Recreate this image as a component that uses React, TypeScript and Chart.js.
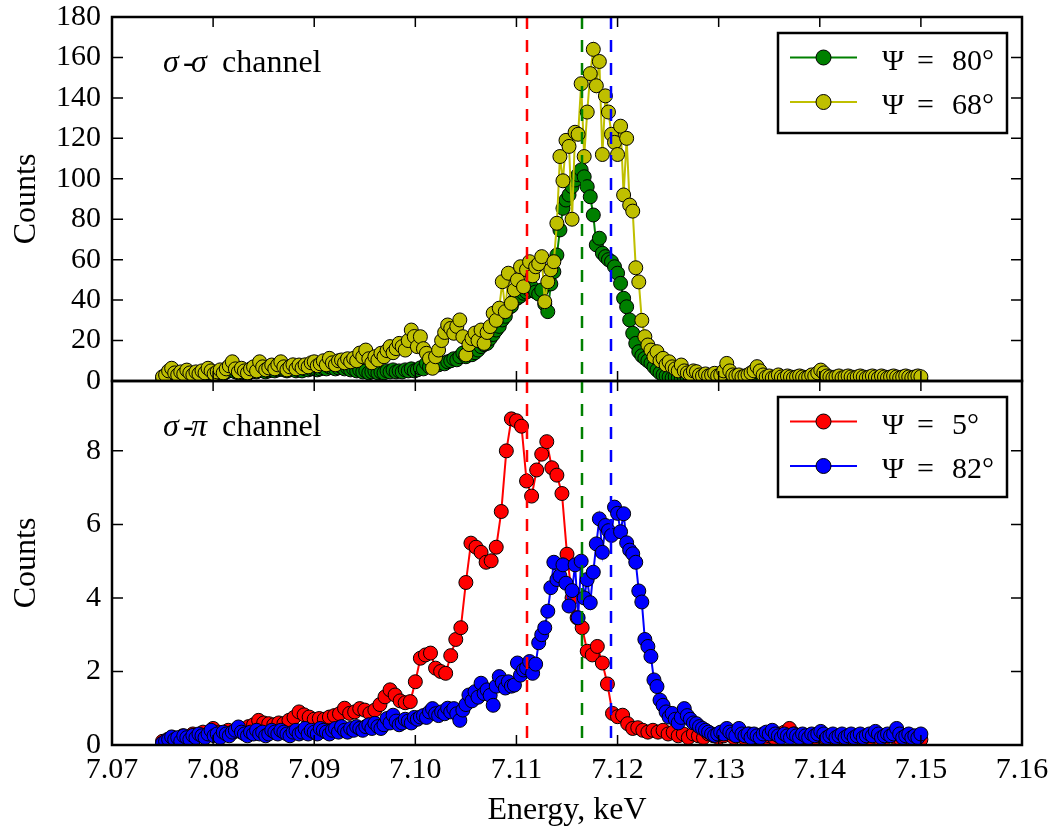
import React, { useEffect, useRef } from 'react';
import { Chart, registerables } from 'chart.js';

Chart.register(...registerables);

// Energy grid (keV) shared by the Ψ=80°, Ψ=68° and Ψ=82° scans
const fineEnergy = [
  7.0750, 7.0753, 7.0756, 7.0759, 7.0762, 7.0765, 7.0768, 7.0771, 7.0774, 7.0777,
  7.0780, 7.0783, 7.0786, 7.0789, 7.0792, 7.0795, 7.0798, 7.0801, 7.0804, 7.0807,
  7.0810, 7.0813, 7.0816, 7.0819, 7.0822, 7.0825, 7.0828, 7.0831, 7.0834, 7.0837,
  7.0840, 7.0843, 7.0846, 7.0849, 7.0852, 7.0855, 7.0858, 7.0861, 7.0864, 7.0867,
  7.0870, 7.0873, 7.0876, 7.0879, 7.0882, 7.0885, 7.0888, 7.0891, 7.0894, 7.0897,
  7.0900, 7.0903, 7.0906, 7.0909, 7.0912, 7.0915, 7.0918, 7.0921, 7.0924, 7.0927,
  7.0930, 7.0933, 7.0936, 7.0939, 7.0942, 7.0945, 7.0948, 7.0951, 7.0954, 7.0957,
  7.0960, 7.0963, 7.0966, 7.0969, 7.0972, 7.0975, 7.0978, 7.0981, 7.0984, 7.0987,
  7.0990, 7.0993, 7.0996, 7.0999, 7.1002, 7.1005, 7.1008, 7.1011, 7.1014, 7.1017,
  7.1020, 7.1023, 7.1026, 7.1029, 7.1032, 7.1035, 7.1038, 7.1041, 7.1044, 7.1047,
  7.1050, 7.1053, 7.1056, 7.1059, 7.1062, 7.1065, 7.1068, 7.1071, 7.1074, 7.1077,
  7.1080, 7.1083, 7.1086, 7.1089, 7.1092, 7.1095, 7.1098, 7.1101, 7.1104, 7.1107,
  7.1110, 7.1113, 7.1116, 7.1119, 7.1122, 7.1125, 7.1128, 7.1131, 7.1134, 7.1137,
  7.1140, 7.1143, 7.1146, 7.1149, 7.1152, 7.1155, 7.1158, 7.1161, 7.1164, 7.1167,
  7.1170, 7.1173, 7.1176, 7.1179, 7.1182, 7.1185, 7.1188, 7.1191, 7.1194, 7.1197,
  7.1200, 7.1203, 7.1206, 7.1209, 7.1212, 7.1215, 7.1218, 7.1221, 7.1224, 7.1227,
  7.1230, 7.1233, 7.1236, 7.1239, 7.1242, 7.1245, 7.1248, 7.1251, 7.1254, 7.1257,
  7.1260, 7.1263, 7.1266, 7.1269, 7.1272, 7.1275, 7.1278, 7.1281, 7.1284, 7.1287,
  7.1290, 7.1293, 7.1296, 7.1299, 7.1302, 7.1305, 7.1308, 7.1311, 7.1314, 7.1317,
  7.1320, 7.1323, 7.1326, 7.1329, 7.1332, 7.1335, 7.1338, 7.1341, 7.1344, 7.1347,
  7.1350, 7.1353, 7.1356, 7.1359, 7.1362, 7.1365, 7.1368, 7.1371, 7.1374, 7.1377,
  7.1380, 7.1383, 7.1386, 7.1389, 7.1392, 7.1395, 7.1398, 7.1401, 7.1404, 7.1407,
  7.1410, 7.1413, 7.1416, 7.1419, 7.1422, 7.1425, 7.1428, 7.1431, 7.1434, 7.1437,
  7.1440, 7.1443, 7.1446, 7.1449, 7.1452, 7.1455, 7.1458, 7.1461, 7.1464, 7.1467,
  7.1470, 7.1473, 7.1476, 7.1479, 7.1482, 7.1485, 7.1488, 7.1491, 7.1494, 7.1497,
  7.1500,
];

// Energy grid (keV) of the Ψ=5° scan
const coarseEnergy = [
  7.0750, 7.0755, 7.0760, 7.0765, 7.0770, 7.0775, 7.0780, 7.0785, 7.0790, 7.0795,
  7.0800, 7.0805, 7.0810, 7.0815, 7.0820, 7.0825, 7.0830, 7.0835, 7.0840, 7.0845,
  7.0850, 7.0855, 7.0860, 7.0865, 7.0870, 7.0875, 7.0880, 7.0885, 7.0890, 7.0895,
  7.0900, 7.0905, 7.0910, 7.0915, 7.0920, 7.0925, 7.0930, 7.0935, 7.0940, 7.0945,
  7.0950, 7.0955, 7.0960, 7.0965, 7.0970, 7.0975, 7.0980, 7.0985, 7.0990, 7.0995,
  7.1000, 7.1005, 7.1010, 7.1015, 7.1020, 7.1025, 7.1030, 7.1035, 7.1040, 7.1045,
  7.1050, 7.1055, 7.1060, 7.1065, 7.1070, 7.1075, 7.1080, 7.1085, 7.1090, 7.1095,
  7.1100, 7.1105, 7.1110, 7.1115, 7.1120, 7.1125, 7.1130, 7.1135, 7.1140, 7.1145,
  7.1150, 7.1155, 7.1160, 7.1165, 7.1170, 7.1175, 7.1180, 7.1185, 7.1190, 7.1195,
  7.1200, 7.1205, 7.1210, 7.1215, 7.1220, 7.1225, 7.1230, 7.1235, 7.1240, 7.1245,
  7.1250, 7.1255, 7.1260, 7.1265, 7.1270, 7.1275, 7.1280, 7.1285, 7.1290, 7.1295,
  7.1300, 7.1305, 7.1310, 7.1315, 7.1320, 7.1325, 7.1330, 7.1335, 7.1340, 7.1345,
  7.1350, 7.1355, 7.1360, 7.1365, 7.1370, 7.1375, 7.1380, 7.1385, 7.1390, 7.1395,
  7.1400, 7.1405, 7.1410, 7.1415, 7.1420, 7.1425, 7.1430, 7.1435, 7.1440, 7.1445,
  7.1450, 7.1455, 7.1460, 7.1465, 7.1470, 7.1475, 7.1480, 7.1485, 7.1490, 7.1495,
  7.1500,
];

// σ-σ channel, Ψ = 80°
const countsPsi80 = [
  1.5, 2.5, 3.5, 4, 3, 2.5, 3.5, 3, 4, 3,
  2.5, 3.5, 3, 4, 3.5, 4.5, 4, 3, 3.5, 4,
  3.5, 4.5, 5, 5.5, 4.5, 4, 4.5, 4, 3.5, 4.5,
  5, 4.5, 5.5, 5, 4.5, 5, 5.5, 5, 5.5, 6,
  5.5, 5, 5.5, 6, 5, 5.5, 5, 6, 5.5, 6,
  6, 5.5, 6, 6.5, 6, 7, 6.5, 6, 6.5, 7,
  6, 6.5, 5.5, 6, 5, 5.5, 4.5, 5, 4, 4.5,
  5, 4, 4.5, 4, 5, 4.5, 5.5, 4.5, 5, 4.5,
  5.5, 5, 6, 5, 5.5, 6.5, 6, 8.7, 7, 9,
  10.4, 8, 9, 8.5, 9.5, 10, 11, 10.5, 12, 13.8,
  12, 14.5, 13, 14, 15.3, 17, 18, 18.6, 21, 23,
  25.2, 27, 30.2, 32, 36, 37, 40, 41, 42, 43.4,
  44, 45, 46, 44, 43, 45, 38, 34.3, 48, 54,
  62.3, 74.7, 85.4, 89.5, 92, 96.1, 99.4, 102, 104.4, 101,
  96.1, 91.1, 82.1, 67.3, 70.6, 63.2, 61.5, 60, 59, 56.5,
  53.3, 48.3, 40.9, 36.7, 30.2, 23.6, 18.6, 14.5, 12.5, 11.2,
  10, 8.8, 7, 5.4, 4, 3, 2.5, 2, 1.5, 2,
  1.5, 1, 1.5, 1, 0.5, 1, 1.5, 1, 0.5, 1,
  0.5, 1, 1.5, 1, 0.5, 1, 1, 0.5, 1.5, 1,
  0.5, 1, 0.5, 1, 1.5, 1, 0.5, 1, 1, 0.5,
  1, 0.5, 1, 1.5, 0.5, 1, 0.5, 1, 0.5, 1,
  1.5, 0.5, 1, 0.5, 1, 0.5, 1, 1.5, 0.5, 1,
  0.5, 1, 0.5, 1, 0.5, 1.5, 1, 0.5, 1, 0.5,
  1, 0.5, 1, 0.5, 1, 0.5, 1, 0.5, 1.5, 1,
  0.5, 1, 0.5, 1, 0.5, 1, 0.5, 1, 0.5, 1,
  0.5,
];

// σ-σ channel, Ψ = 68°
const countsPsi68 = [
  2.1, 3, 5, 6.3, 4, 3, 4.5, 3.5, 5.4, 4,
  3, 4.5, 3.5, 5, 4, 6.3, 5, 3.5, 4.5, 5.5,
  4, 6, 7.5, 9.5, 6, 4.5, 6.3, 5, 4, 6,
  7, 5, 9.5, 7, 5.5, 6.5, 7.9, 6, 8, 9.5,
  7, 5.5, 7, 8, 6, 7.9, 6.5, 8, 7, 9,
  9.5, 7.5, 8.5, 10, 8, 11.2, 9, 8, 10, 10.4,
  9, 11, 9.5, 11.2, 10, 13.8, 12, 15.3, 11, 9,
  12, 10.4, 13.7, 12, 15, 17, 14, 16, 18.6, 17,
  15.3, 20, 25.2, 22, 17, 21.9, 16, 13.7, 11, 6.3,
  12, 15.3, 20, 24, 27.7, 26, 23.6, 27, 30.2, 21.9,
  12.9, 18, 21, 23.7, 20, 25.2, 18.6, 24, 26.9, 33.5,
  30, 36, 49.1, 34.3, 53.3, 38.4, 45, 50, 56.5, 46.6,
  55, 59, 52, 56.5, 58, 61.5, 39.2, 49.1, 55, 59,
  78, 111, 99, 119, 116, 80, 123, 122, 147, 111,
  133, 152, 164, 146, 158, 112, 141, 133, 122, 118,
  112, 126, 92, 120, 87, 84, 56, 49, 30, 21.9,
  17.8, 15.3, 12, 14.5, 10, 11.2, 8, 9.5, 7, 6,
  5, 7.9, 5, 4, 3.5, 5, 4.6, 3, 2.5, 3.5,
  2.5, 3, 3.8, 2.5, 3, 5, 8.7, 5, 3, 2.5,
  3, 2, 2.5, 3, 4, 5, 7.1, 5, 3, 2,
  2.5, 1.5, 2, 3, 2, 1.5, 2.5, 2, 1.5, 2,
  2.5, 2, 1.5, 2, 3, 2.5, 4, 5.4, 4, 2.5,
  2, 1.5, 2, 2.5, 1.5, 2, 2.5, 2, 1.5, 2,
  2.5, 2, 1.5, 2, 2.5, 2, 1.5, 2.5, 2, 1.5,
  2, 2.5, 2, 1.5, 2, 2.5, 2, 1.5, 2, 2.5,
  2.1,
];

// σ-π channel, Ψ = 82°
const countsPsi82 = [
  0.05, 0.1, 0.15, 0.22, 0.15, 0.2, 0.1, 0.25, 0.2, 0.15,
  0.26, 0.2, 0.3, 0.25, 0.2, 0.3, 0.4, 0.25, 0.3, 0.2,
  0.35, 0.3, 0.25, 0.35, 0.4, 0.49, 0.35, 0.3, 0.25, 0.35,
  0.3, 0.4, 0.3, 0.35, 0.25, 0.3, 0.4, 0.35, 0.3, 0.4,
  0.35, 0.3, 0.25, 0.35, 0.4, 0.3, 0.35, 0.45, 0.3, 0.4,
  0.35, 0.3, 0.45, 0.4, 0.35, 0.3, 0.4, 0.45, 0.35, 0.5,
  0.4, 0.35, 0.45, 0.4, 0.5, 0.45, 0.4, 0.5, 0.55, 0.45,
  0.59, 0.5, 0.45, 0.55, 0.72, 0.6, 0.81, 0.65, 0.55, 0.6,
  0.7, 0.65, 0.6, 0.75, 0.7, 0.76, 0.8, 0.75, 0.9, 0.99,
  0.85, 0.8, 0.9, 0.85, 1.0, 0.9, 0.99, 0.85, 0.67, 0.95,
  1.1, 1.36, 1.2, 1.45, 1.3, 1.68, 1.4, 1.5, 1.35, 1.08,
  1.6, 1.86, 1.7, 1.55, 1.72, 1.6, 1.63, 2.23, 1.9, 2.04,
  2.1, 2.27, 1.95, 2.2, 2.78, 3.0, 3.19, 3.64, 4.28, 4.97,
  4.5, 4.6, 4.9, 4.4, 3.78, 4.2, 4.9, 3.46, 5.0, 4.0,
  4.5, 3.87, 4.7, 5.47, 6.15, 5.24, 5.97, 5.83, 5.7, 6.47,
  6.3, 5.8, 6.29, 5.5, 5.3, 5.2, 4.97, 4.19, 3.89, 2.87,
  2.68, 2.41, 1.77, 1.59, 1.22, 1.08, 0.9, 0.76, 0.86, 0.7,
  0.6, 0.75, 0.99, 0.8, 0.7, 0.6, 0.58, 0.5, 0.45, 0.4,
  0.35, 0.3, 0.26, 0.3, 0.35, 0.3, 0.45, 0.35, 0.3, 0.25,
  0.45, 0.3, 0.25, 0.3, 0.2, 0.3, 0.25, 0.2, 0.3, 0.35,
  0.3, 0.4, 0.3, 0.25, 0.2, 0.3, 0.25, 0.2, 0.3, 0.25,
  0.2, 0.3, 0.25, 0.2, 0.3, 0.25, 0.3, 0.37, 0.3, 0.2,
  0.25, 0.3, 0.2, 0.25, 0.3, 0.2, 0.25, 0.3, 0.2, 0.25,
  0.3, 0.2, 0.25, 0.3, 0.25, 0.37, 0.3, 0.2, 0.25, 0.3,
  0.25, 0.3, 0.45, 0.3, 0.2, 0.25, 0.3, 0.2, 0.25, 0.2,
  0.3,
];

// σ-π channel, Ψ = 5°
const countsPsi5 = [
  0.1, 0.15, 0.2, 0.15, 0.25, 0.2, 0.3, 0.25, 0.35, 0.3,
  0.45, 0.35, 0.3, 0.4, 0.35, 0.45, 0.4, 0.5, 0.55, 0.67,
  0.6, 0.58, 0.55, 0.6, 0.58, 0.67, 0.75, 0.9, 0.82, 0.76,
  0.7, 0.72, 0.7, 0.76, 0.8, 0.85, 1.0, 0.86, 0.9, 0.99,
  0.95, 0.86, 0.95, 1.1, 1.31, 1.5, 1.36, 1.2, 1.15, 1.18,
  1.72, 2.36, 2.45, 2.5, 2.09, 2.0, 1.95, 2.43, 2.87, 3.19,
  4.42, 5.49, 5.38, 5.24, 4.97, 5.01, 5.38, 6.35, 8.0, 8.87,
  8.82, 8.67, 7.18, 6.77, 7.48, 7.91, 8.25, 7.54, 7.34, 6.84,
  5.19, 4.0, 3.46, 3.19, 2.55, 2.45, 2.68, 2.23, 1.66, 0.86,
  0.77, 0.81, 0.58, 0.45, 0.47, 0.4, 0.35, 0.4, 0.35, 0.4,
  0.3, 0.35, 0.25, 0.3, 0.2, 0.3, 0.25, 0.2, 0.3, 0.25,
  0.2, 0.25, 0.3, 0.2, 0.25, 0.2, 0.3, 0.25, 0.2, 0.15,
  0.25, 0.2, 0.3, 0.35, 0.45, 0.3, 0.2, 0.25, 0.15, 0.2,
  0.25, 0.2, 0.15, 0.25, 0.2, 0.15, 0.2, 0.25, 0.2, 0.15,
  0.2, 0.25, 0.15, 0.2, 0.25, 0.2, 0.15, 0.2, 0.15, 0.2,
  0.15,
];

const xTickValues = [7.07, 7.08, 7.09, 7.1, 7.11, 7.12, 7.13, 7.14, 7.15, 7.16];
const topYTickValues = [0, 20, 40, 60, 80, 100, 120, 140, 160, 180];
const bottomYTickValues = [0, 2, 4, 6, 8];
const refLineEnergies = [7.111, 7.1165, 7.1194];

const GREEN = '#008000';
const YELLOW = '#bfbf00';
const RED = '#ff0000';
const BLUE = '#0000ff';
const refLineColors = [RED, GREEN, BLUE];

const SERIF = "'Liberation Serif', 'Times New Roman', serif";
const SERIF_IT = "italic 32px 'Liberation Serif', 'Times New Roman', serif";

type LegendItem = { color: string; value: string };

function makeDecor(yTicks: number[], legend: LegendItem[], greek: string) {
  return {
    id: 'panelDecor',
    afterDatasetsDraw(chart: any) {
      const { ctx, chartArea: a } = chart;
      const xs = chart.scales.x;
      ctx.save();
      ctx.beginPath();
      ctx.rect(a.left, a.top, a.right - a.left, a.bottom - a.top);
      ctx.clip();
      ctx.lineWidth = 2.5;
      ctx.setLineDash([12, 11]);
      refLineEnergies.forEach((e, k) => {
        const px = Math.round(xs.getPixelForValue(e));
        ctx.strokeStyle = refLineColors[k];
        ctx.beginPath();
        ctx.moveTo(px, a.top);
        ctx.lineTo(px, a.bottom);
        ctx.stroke();
      });
      ctx.restore();
    },
    afterDraw(chart: any) {
      const { ctx, chartArea: a } = chart;
      const xs = chart.scales.x;
      const ys = chart.scales.y;
      ctx.save();
      // inward tick marks on all four sides
      ctx.strokeStyle = '#000';
      ctx.lineWidth = 1.5;
      ctx.beginPath();
      for (const v of xTickValues) {
        const px = xs.getPixelForValue(v);
        ctx.moveTo(px, a.top);
        ctx.lineTo(px, a.top + 10);
        ctx.moveTo(px, a.bottom);
        ctx.lineTo(px, a.bottom - 10);
      }
      for (const v of yTicks) {
        const py = ys.getPixelForValue(v);
        ctx.moveTo(a.left, py);
        ctx.lineTo(a.left + 11, py);
        ctx.moveTo(a.right, py);
        ctx.lineTo(a.right - 11, py);
      }
      ctx.stroke();
      // frame
      ctx.lineWidth = 2.5;
      ctx.strokeRect(a.left, a.top, a.right - a.left, a.bottom - a.top);

      // channel annotation
      ctx.fillStyle = '#000';
      ctx.textAlign = 'left';
      ctx.textBaseline = 'alphabetic';
      const by = a.top + 55;
      ctx.font = SERIF_IT;
      ctx.fillText('σ', a.left + 51, by);
      ctx.fillText(greek, a.left + 79, by);
      ctx.font = `32px ${SERIF}`;
      ctx.fillText('-', a.left + 71, by);
      ctx.fillText('channel', a.left + 110, by);

      // legend
      const bl = a.right - 244;
      const bt = a.top + 16;
      ctx.fillStyle = '#fff';
      ctx.fillRect(bl, bt, 229, 100);
      ctx.strokeStyle = '#000';
      ctx.lineWidth = 2.5;
      ctx.strokeRect(bl, bt, 229, 100);
      legend.forEach((it, k) => {
        const ry = bt + 24.5 + k * 44.5;
        ctx.strokeStyle = it.color;
        ctx.lineWidth = 2;
        ctx.beginPath();
        ctx.moveTo(bl + 12, ry);
        ctx.lineTo(bl + 79, ry);
        ctx.stroke();
        ctx.beginPath();
        ctx.arc(bl + 45.5, ry, 7.5, 0, Math.PI * 2);
        ctx.fillStyle = it.color;
        ctx.fill();
        ctx.lineWidth = 1;
        ctx.strokeStyle = '#000';
        ctx.stroke();
        ctx.fillStyle = '#000';
        ctx.font = `30px ${SERIF}`;
        ctx.fillText('Ψ', bl + 104, ry + 12);
        ctx.fillText('=', bl + 139, ry + 12);
        ctx.fillText(it.value, bl + 174, ry + 12);
      });
      ctx.restore();
    },
  };
}

function series(xs: number[], ys: number[], color: string) {
  return {
    data: xs.map((x, k) => ({ x, y: ys[k] })),
    borderColor: color,
    borderWidth: 2,
    backgroundColor: color,
    pointBackgroundColor: color,
    pointBorderColor: '#000',
    pointBorderWidth: 1,
    pointRadius: 7,
    pointHoverRadius: 7,
    tension: 0,
    fill: false,
    clip: 0,
  };
}

const tickFont = { family: SERIF, size: 30, lineHeight: 1 };
const titleFont = { family: SERIF, size: 32, lineHeight: 1.2 };

function fixWidth(s: any) {
  s.width = 112;
  s.paddingTop = 0;
  s.paddingBottom = 0;
}

function fixHeight(s: any) {
  s.height = 87;
  s.paddingLeft = 0;
  s.paddingRight = 0;
}

export default function App() {
  const topRef = useRef<HTMLCanvasElement>(null);
  const botRef = useRef<HTMLCanvasElement>(null);

  useEffect(() => {
    const common = {
      responsive: false,
      animation: false as const,
      events: [] as any[],
      plugins: { legend: { display: false }, tooltip: { enabled: false } },
    };

    const topChart = new Chart(topRef.current as HTMLCanvasElement, {
      type: 'line',
      data: {
        datasets: [
          series(fineEnergy, countsPsi68, YELLOW),
          series(fineEnergy, countsPsi80, GREEN),
        ] as any,
      },
      options: {
        ...common,
        layout: { padding: { left: 0, right: 36, top: 17, bottom: 451 } },
        scales: {
          x: { type: 'linear', min: 7.07, max: 7.16, display: false },
          y: {
            type: 'linear',
            min: 0,
            max: 180,
            afterBuildTicks: (s: any) => {
              s.ticks = topYTickValues.map((value) => ({ value }));
            },
            afterFit: fixWidth,
            grid: { display: false, drawTicks: false },
            border: { display: false },
            ticks: { font: tickFont, color: '#000', padding: 11, callback: (v: any) => String(v) },
            title: { display: true, text: 'Counts', font: titleFont, color: '#000', padding: { top: 7, bottom: 0 } },
          },
        },
      } as any,
      plugins: [
        makeDecor(
          topYTickValues,
          [
            { color: GREEN, value: '80°' },
            { color: YELLOW, value: '68°' },
          ],
          'σ'
        ),
      ],
    });

    const botChart = new Chart(botRef.current as HTMLCanvasElement, {
      type: 'line',
      data: {
        datasets: [
          series(fineEnergy, countsPsi82, BLUE),
          series(coarseEnergy, countsPsi5, RED),
        ] as any,
      },
      options: {
        ...common,
        layout: { padding: { left: 0, right: 36, top: 381, bottom: 0 } },
        scales: {
          x: {
            type: 'linear',
            min: 7.07,
            max: 7.16,
            afterBuildTicks: (s: any) => {
              s.ticks = xTickValues.map((value) => ({ value }));
            },
            afterFit: fixHeight,
            grid: { display: false, drawTicks: false },
            border: { display: false },
            ticks: {
              font: tickFont,
              color: '#000',
              padding: 10,
              autoSkip: false,
              maxRotation: 0,
              callback: (v: any) => Number(v).toFixed(2),
            },
            title: { display: true, text: 'Energy, keV', font: titleFont, color: '#000', padding: { top: 0, bottom: 2 } },
          },
          y: {
            type: 'linear',
            min: 0,
            max: 9.9,
            afterBuildTicks: (s: any) => {
              s.ticks = bottomYTickValues.map((value) => ({ value }));
            },
            afterFit: fixWidth,
            grid: { display: false, drawTicks: false },
            border: { display: false },
            ticks: { font: tickFont, color: '#000', padding: 11, callback: (v: any) => String(v) },
            title: { display: true, text: 'Counts', font: titleFont, color: '#000', padding: { top: 7, bottom: 0 } },
          },
        },
      } as any,
      plugins: [
        makeDecor(
          bottomYTickValues,
          [
            { color: RED, value: '5°' },
            { color: BLUE, value: '82°' },
          ],
          'π'
        ),
      ],
    });

    return () => {
      topChart.destroy();
      botChart.destroy();
    };
  }, []);

  return (
    <div
      style={{
        position: 'fixed',
        left: 0,
        top: 0,
        width: 1058,
        height: 832,
        background: '#fff',
        overflow: 'hidden',
      }}
    >
      <canvas ref={topRef} width={1058} height={832} style={{ position: 'absolute', left: 0, top: 0 }} />
      <canvas ref={botRef} width={1058} height={832} style={{ position: 'absolute', left: 0, top: 0 }} />
    </div>
  );
}
